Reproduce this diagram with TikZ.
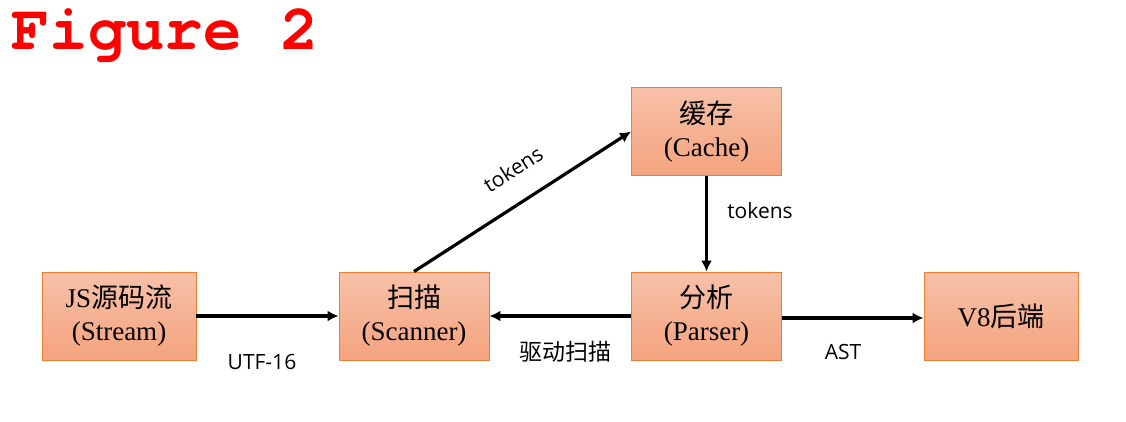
\documentclass[tikz,border=0pt]{standalone}
\usepackage{fontspec}
\setmainfont{Liberation Serif}
\newfontfamily\cjk{Noto Sans CJK SC}
\newfontfamily\lblfont{Open Sans}
\newfontfamily\titlefont{TeX Gyre Cursor}
\usetikzlibrary{arrows.meta}
\definecolor{boxline}{RGB}{237,125,49}
\definecolor{boxtop}{RGB}{247,193,168}
\definecolor{boxbot}{RGB}{244,163,127}
\begin{document}
\begin{tikzpicture}[x=1pt,y=-1pt,
  box/.style={draw=boxline, line width=0.9pt, top color=boxtop, bottom color=boxbot,
    minimum width=150pt, minimum height=88pt, inner sep=0pt, align=center,
    font=\fontsize{27}{33}\selectfont},
  arr/.style={line width=3.2pt, -{Latex[length=11pt,width=11pt]}},
  lbl/.style={inner sep=0pt, font=\lblfont\fontsize{21}{24}\selectfont},
  clbl/.style={inner sep=0pt, font=\cjk\fontsize{23}{26}\selectfont}]
\useasboundingbox (0,0) rectangle (1126,421);
\node[anchor=base west, inner sep=0pt, text height=40pt, text depth=12pt, text=red, font=\titlefont\bfseries\fontsize{64}{64}\selectfont] (title) at (11,49) {Figure 2};
\node[box, minimum width=154pt] (stream) at (119,316) {JS{\cjk 源码流}\\(Stream)};
\node[box] (scan) at (414,316) {{\cjk 扫描}\\(Scanner)};
\node[box] (cache) at (706.5,131.5) {{\cjk 缓存}\\(Cache)};
\node[box] (parse) at (706.5,316) {{\cjk 分析}\\(Parser)};
\node[box, minimum width=154pt] (v8) at (1001,316) {V8{\cjk 后端}};
\draw[arr] (stream.east) -- (scan.west);
\draw[arr] (scan.north) -- (cache.west);
\draw[arr] (cache.south) -- (parse.north);
\draw[arr] (parse.west) -- (scan.east);
\draw[arr] ([yshift=-2pt]parse.east) -- ([yshift=-2pt]v8.west);
\node[lbl] (l1) at (262,362) {UTF-16};
\node[lbl, rotate=32.3] (l2) at (513,169) {tokens};
\node[lbl] (l3) at (760,211) {tokens};
\node[clbl] (l4) at (565,352) {驱动扫描};
\node[lbl] (l5) at (843,352) {AST};
\end{tikzpicture}
\end{document}
